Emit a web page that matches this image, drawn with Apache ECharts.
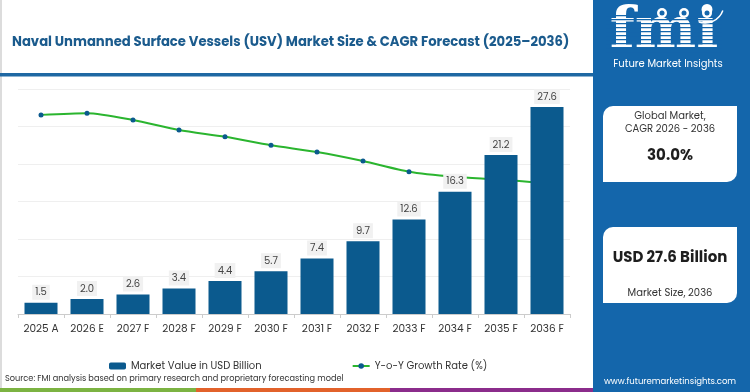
<!DOCTYPE html>
<html>
<head>
<meta charset="utf-8">
<script src="https://cdn.jsdelivr.net/npm/echarts@6/dist/echarts.min.js"></script>
<style>
  html, body { margin: 0; padding: 0; background: #fff; }
  #chart { width: 750px; height: 392px; }
</style>
</head>
<body>
<div id="chart"></div>
<script>
const categories = ['2025 A', '2026 E', '2027 F', '2028 F', '2029 F', '2030 F', '2031 F', '2032 F', '2033 F', '2034 F', '2035 F', '2036 F']
const marketValues = [1.5, 2.0, 2.6, 3.4, 4.4, 5.7, 7.4, 9.7, 12.6, 16.3, 21.2, 27.6]
const growthRates = [35.4, 35.7, 34.5, 32.7, 31.5, 30.0, 28.8, 27.2, 25.3, 24.4, 23.9, 23.2]

const titleText = 'Naval Unmanned Surface Vessels (USV) Market Size & CAGR Forecast (2025\u20132036)'
const cagrText = '30.0%'
const sizeText = 'USD 27.6 Billion'

const font = 'Poppins, "Noto Sans", sans-serif'
const panelBlue = '#1466ab'
const barBlue = '#0b5a8e'
const lineGreen = '#2bb52f'

// striped "fmi" logo: thin blue bars laid over white letters
const stripes = []
for (let y = 15; y < 54; y += 4) {
  stripes.push({ type: 'rect', shape: { x: 606, y: y, width: 116, height: 1.3 }, style: { fill: panelBlue }, z: 12 })
}

const myChart = echarts.init(document.getElementById('chart'))
myChart.setOption({
  animation: false,
  textStyle: { fontFamily: font },
  title: {
    text: titleText,
    left: 7,
    top: 31,
    textStyle: { fontSize: 13.2, fontWeight: 'bold', color: '#1b5b8d', fontFamily: font }
  },
  grid: { left: 18, right: 180, top: 89, bottom: 78 },
  legend: {
    left: 104,
    top: 356,
    itemGap: 90,
    itemWidth: 17,
    itemHeight: 7,
    textStyle: { fontSize: 10, color: '#333', fontFamily: font },
    data: ['Market Value in USD Billion', 'Y-o-Y Growth Rate (%)']
  },
  xAxis: {
    type: 'category',
    data: categories,
    axisLine: { lineStyle: { color: '#cccccc' } },
    axisTick: { show: true, length: 4, lineStyle: { color: '#cccccc' } },
    axisLabel: { fontSize: 10.5, color: '#333', margin: 10, interval: 0 }
  },
  yAxis: [
    {
      type: 'value',
      min: 0,
      max: 30,
      interval: 5,
      axisLabel: { show: false },
      axisLine: { show: false },
      axisTick: { show: false },
      splitLine: { lineStyle: { color: '#efefef' } }
    },
    {
      type: 'value',
      min: 0,
      max: 40,
      show: false,
      splitLine: { show: false }
    }
  ],
  series: [
    {
      name: 'Market Value in USD Billion',
      type: 'bar',
      z: 3,
      data: marketValues,
      barWidth: 33,
      itemStyle: { color: barBlue },
      label: {
        show: true,
        position: 'top',
        distance: 3,
        fontSize: 10,
        color: '#444',
        backgroundColor: '#f1f1f1',
        padding: [3, 3, 2, 3],
        formatter: p => p.value.toFixed(1)
      }
    },
    {
      name: 'Y-o-Y Growth Rate (%)',
      type: 'line',
      z: 2,
      yAxisIndex: 1,
      data: growthRates,
      smooth: 0.25,
      symbol: 'circle',
      symbolSize: 5,
      lineStyle: { color: lineGreen, width: 2 },
      itemStyle: { color: barBlue }
    }
  ],
  graphic: [
    { type: 'rect', shape: { x: 0, y: 0, width: 2, height: 388 }, style: { fill: '#dcdcdc' } },
    { type: 'rect', shape: { x: 0, y: 73, width: 593, height: 3.5 }, style: { fill: '#1f68a3' } },
    { type: 'rect', shape: { x: 593, y: 0, width: 157, height: 392 }, style: { fill: panelBlue } },
    // logo
    { type: 'text', x: 664, y: 33, style: { text: 'fmi', font: 'bold 58px "DejaVu Serif", serif', fill: '#ffffff', align: 'center', verticalAlign: 'middle' }, z: 11 },
    ...stripes,
    { type: 'circle', shape: { cx: 662, cy: 13, r: 5 }, style: { fill: '#ffffff' }, z: 13 },
    { type: 'circle', shape: { cx: 684, cy: 13, r: 5 }, style: { fill: '#ffffff' }, z: 13 },
    { type: 'circle', shape: { cx: 707, cy: 13, r: 5 }, style: { fill: '#ffffff' }, z: 13 },
    { type: 'circle', shape: { cx: 662, cy: 13, r: 2.5 }, style: { fill: panelBlue }, z: 14 },
    { type: 'circle', shape: { cx: 684, cy: 13, r: 2.5 }, style: { fill: panelBlue }, z: 14 },
    { type: 'circle', shape: { cx: 707, cy: 13, r: 2.5 }, style: { fill: panelBlue }, z: 14 },
    { type: 'arc', shape: { cx: 705, cy: 4, r: 19, startAngle: 0.35, endAngle: 1.9 }, style: { stroke: '#ffffff', lineWidth: 1.5, fill: null }, z: 13 },
    { type: 'text', x: 668, y: 64, style: { text: 'Future Market Insights', font: '10px ' + font, fill: '#ffffff', align: 'center', verticalAlign: 'middle' }, z: 11 },
    // cards
    { type: 'rect', shape: { x: 603, y: 106, width: 134, height: 76, r: [10, 0, 10, 0] }, style: { fill: '#ffffff' }, z: 11 },
    { type: 'text', x: 670, y: 116, style: { text: 'Global Market,', font: '10px ' + font, fill: '#333', align: 'center', verticalAlign: 'middle' }, z: 12 },
    { type: 'text', x: 670, y: 129, style: { text: 'CAGR 2026 - 2036', font: '10px ' + font, fill: '#333', align: 'center', verticalAlign: 'middle' }, z: 12 },
    { type: 'text', x: 670, y: 156, style: { text: cagrText, font: 'bold 15px ' + font, fill: '#1e1e1e', align: 'center', verticalAlign: 'middle' }, z: 12 },
    { type: 'rect', shape: { x: 603, y: 227, width: 134, height: 76, r: [10, 0, 10, 0] }, style: { fill: '#ffffff' }, z: 11 },
    { type: 'text', x: 670, y: 258, style: { text: sizeText, font: 'bold 15px ' + font, fill: '#1e1e1e', align: 'center', verticalAlign: 'middle' }, z: 12 },
    { type: 'text', x: 670, y: 293, style: { text: 'Market Size, 2036', font: '10px ' + font, fill: '#333', align: 'center', verticalAlign: 'middle' }, z: 12 },
    { type: 'text', x: 670, y: 382, style: { text: 'www.futuremarketinsights.com', font: '8.5px ' + font, fill: '#ffffff', align: 'center', verticalAlign: 'middle' }, z: 12 },
    // footer
    { type: 'text', x: 5, y: 379, style: { text: 'Source: FMI analysis based on primary research and proprietary forecasting model', font: '8.2px ' + font, fill: '#333', verticalAlign: 'middle' } },
    { type: 'rect', shape: { x: 0, y: 388, width: 196, height: 4 }, style: { fill: '#7cb342' } },
    { type: 'rect', shape: { x: 196, y: 388, width: 194, height: 4 }, style: { fill: '#e2622b' } },
    { type: 'rect', shape: { x: 390, y: 388, width: 203, height: 4 }, style: { fill: '#8b2c8b' } }
  ]
})
</script>
</body>
</html>
